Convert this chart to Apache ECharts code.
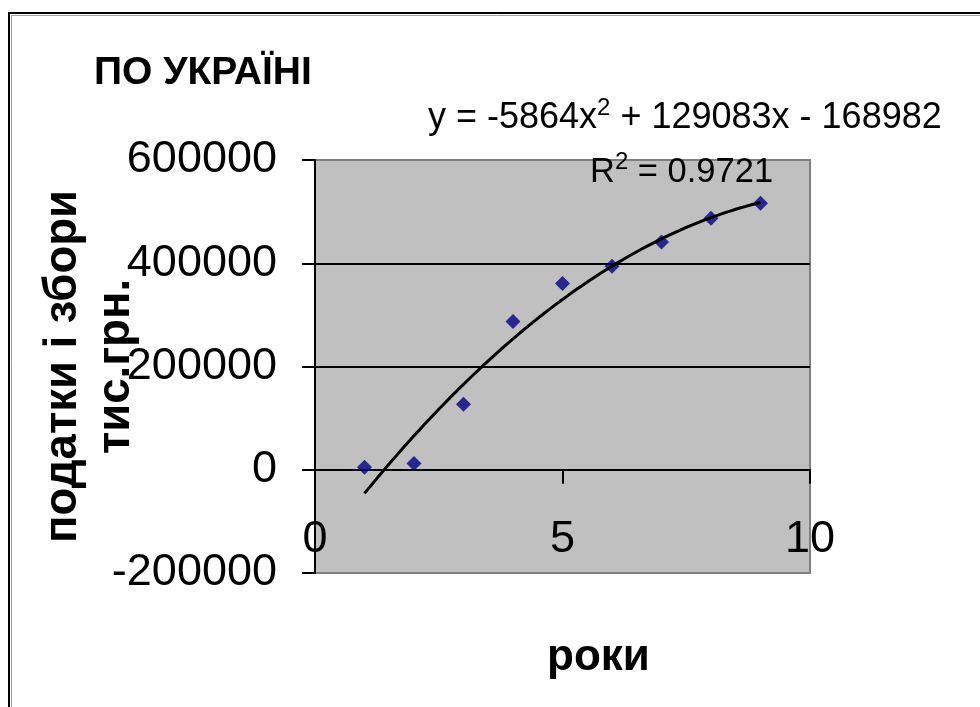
<!DOCTYPE html>
<html>
<head>
<meta charset="utf-8">
<script src="https://cdn.jsdelivr.net/npm/echarts@6/dist/echarts.min.js"></script>
<style>
  html, body { margin: 0; padding: 0; background: #fff; }
  #chart { width: 980px; height: 707px; }
</style>
</head>
<body>
<div id="chart"></div>
<script>
// Роки (порядковий номер) та надходження податків і зборів, тис. грн.
const years = [1, 2, 3, 4, 5, 6, 7, 8, 9];
const taxes = [5000, 12000, 127000, 287000, 361000, 394000, 441000, 487000, 516000];

// Поліноміальний тренд 2-го степеня: a*x^2 + b*x + c
const trendCoef = [-5864, 129083, -168982];
const rSquared = 0.9721;

// Шкали осей
const yTicks = [-200000, 0, 200000, 400000, 600000];
const xTicks = [0, 5, 10];

const FONT = '"Liberation Sans", Arial, sans-serif';

// Крива тренду за рівнянням, від першого до останнього року
const trendPoints = [];
for (let i = 0; i <= 80; i++) {
  const x = years[0] + (years[years.length - 1] - years[0]) * i / 80;
  trendPoints.push([x, trendCoef[0] * x * x + trendCoef[1] * x + trendCoef[2]]);
}

const sign = v => (v < 0 ? ' - ' : ' + ') + Math.abs(v);
const eqText = 'y = ' + trendCoef[0] + 'x{sup|2}' + sign(trendCoef[1]) + 'x' + sign(trendCoef[2]);
const supStyle = { fontFamily: FONT, fontSize: 24, color: '#000', verticalAlign: 'top', padding: [0, 0, 20, 0] };

const chart = echarts.init(document.getElementById('chart'), null, { renderer: 'canvas' });

chart.setOption({
  backgroundColor: '#ffffff',
  animation: false,
  title: [
    {
      text: 'ПО УКРАЇНІ',
      left: 94, top: 54, padding: 0,
      textStyle: { fontFamily: FONT, fontSize: 39, fontWeight: 'bold', color: '#000' }
    },
    {
      text: eqText,
      left: 428, top: 96, padding: 0,
      textStyle: {
        fontFamily: FONT, fontSize: 36, fontWeight: 'normal', color: '#000',
        rich: { sup: supStyle }
      }
    },
    {
      text: 'R{sup|2} = ' + rSquared,
      left: 590, top: 150, padding: 0,
      textStyle: {
        fontFamily: FONT, fontSize: 34.5, fontWeight: 'normal', color: '#000',
        rich: { sup: supStyle }
      }
    }
  ],
  graphic: [
    { type: 'rect', shape: { x: 9, y: 13, width: 1000, height: 1000 },
      style: { fill: 'none', stroke: '#000', lineWidth: 2 }, silent: true },
    { type: 'rect', shape: { x: 11.5, y: 15.5, width: 1000, height: 1000 },
      style: { fill: 'none', stroke: '#a0a0a0', lineWidth: 1 }, silent: true }
  ],
  grid: {
    left: 315, top: 160, width: 495, height: 413,
    containLabel: false,
    outerBoundsMode: 'none',
    show: true, backgroundColor: '#c0c0c0', borderColor: '#808080', borderWidth: 2
  },
  xAxis: {
    type: 'value',
    min: xTicks[0], max: xTicks[xTicks.length - 1], interval: 5,
    name: 'роки',
    nameLocation: 'middle',
    nameGap: 63,
    nameMoveOverlap: false,
    nameTextStyle: { fontFamily: FONT, fontSize: 44, fontWeight: 'bold', color: '#000', padding: [0, 0, 0, 72] },
    axisLine: { show: true, onZero: true, lineStyle: { color: '#000', width: 2 } },
    axisTick: { show: true, inside: false, length: 14, lineStyle: { color: '#000', width: 2 } },
    axisLabel: { fontFamily: FONT, fontSize: 45, color: '#000', margin: -56 },
    splitLine: { show: false }
  },
  yAxis: {
    type: 'value',
    min: yTicks[0], max: yTicks[yTicks.length - 1], interval: 200000,
    name: 'податки і збори\nтис.грн.',
    nameLocation: 'middle',
    nameRotate: 90,
    nameGap: 172,
    nameMoveOverlap: false,
    nameTextStyle: { fontFamily: FONT, fontSize: 45.5, fontWeight: 'bold', color: '#000', lineHeight: 53 },
    axisLine: { show: true, lineStyle: { color: '#000', width: 2 } },
    axisTick: { show: true, inside: false, length: 13, lineStyle: { color: '#000', width: 2 } },
    axisLabel: { fontFamily: FONT, fontSize: 45, color: '#000', margin: 38, formatter: v => String(v) },
    splitLine: { show: true, showMinLine: false, showMaxLine: false, lineStyle: { color: '#000', width: 2 } }
  },
  series: [
    {
      name: 'податки і збори',
      type: 'scatter',
      data: years.map((y, i) => [y, taxes[i]]),
      symbol: 'diamond',
      symbolSize: 15,
      itemStyle: { color: '#000080' },
      z: 3
    },
    {
      name: 'тренд',
      type: 'line',
      data: trendPoints,
      showSymbol: false,
      smooth: false,
      lineStyle: { color: '#000', width: 3 },
      z: 4
    }
  ]
});
</script>
</body>
</html>
